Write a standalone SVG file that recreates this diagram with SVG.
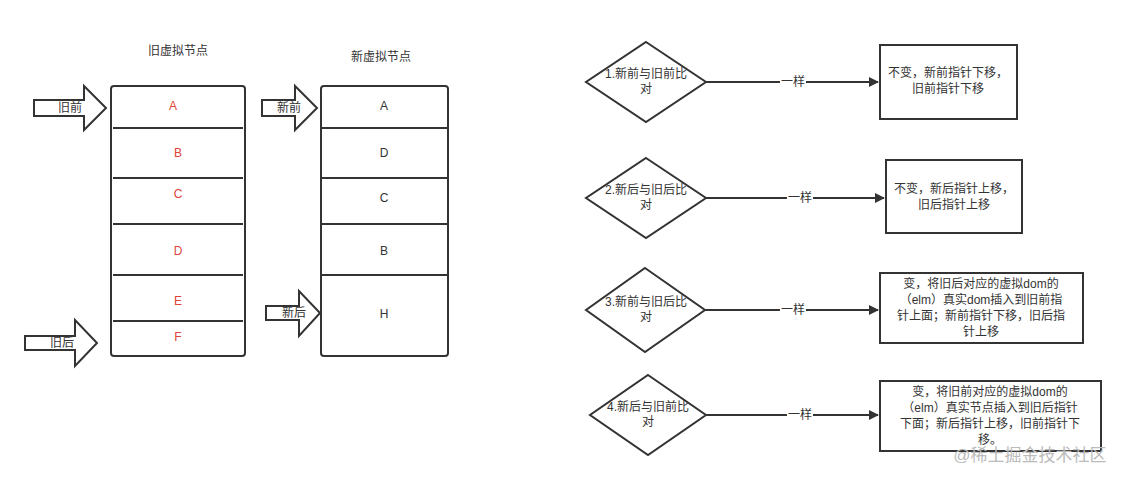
<svg xmlns="http://www.w3.org/2000/svg" width="1126" height="481" viewBox="0 0 1126 481">
<style>
text{font-family:"Liberation Sans","Noto Sans CJK SC",sans-serif;font-size:12px;fill:#333;text-anchor:middle}
.r{fill:#e0433b}
.box{fill:#fff;stroke:#333;stroke-width:2}
.ln{stroke:#333;stroke-width:2;fill:none}
.ba{fill:#fff;stroke:#333;stroke-width:2;stroke-linejoin:miter}
</style>
<defs><marker id="ah" markerWidth="10" markerHeight="10" refX="9" refY="5" orient="auto" markerUnits="userSpaceOnUse"><path d="M0,0 L10,5 L0,10 Z" fill="#333"/></marker></defs>
<rect width="1126" height="481" fill="#fff"/>
<g id="old-list">
<text x="178" y="55">旧虚拟节点</text>
<rect class="box" x="111" y="86" width="134" height="270" rx="3"/>
<path class="ln" d="M113 128H243M113 178H243M113 224H243M113 275H243M113 321H243"/>
<text class="r" x="173" y="110">A</text><text class="r" x="178" y="157">B</text><text class="r" x="178" y="198">C</text><text class="r" x="178" y="255">D</text><text class="r" x="178" y="305">E</text><text class="r" x="178" y="341">F</text>
</g>
<g id="new-list">
<text x="381" y="61">新虚拟节点</text>
<rect class="box" x="321" y="86" width="127" height="270" rx="3"/>
<path class="ln" d="M322 128H447M322 178H447M322 224H447M322 275H447"/>
<text x="384" y="110">A</text><text x="384" y="157">D</text><text x="384" y="202">C</text><text x="384" y="255">B</text><text x="384" y="318">H</text>
</g>
<g id="ptr-old-front"><path class="ba" d="M34 100H84V86L106 108L84 130V116H34Z"/><text x="70" y="112">旧前</text></g>
<g id="ptr-new-front"><path class="ba" d="M262 100H295V86L317 108L295 130V116H262Z"/><text x="289" y="112">新前</text></g>
<g id="ptr-new-back"><path class="ba" d="M266 306H299V291L320 313L299 336V320H266Z"/><text x="294" y="317">新后</text></g>
<g id="ptr-old-back"><path class="ba" d="M25 336H75V320L97 343L75 366V350H25Z"/><text x="62" y="347">旧后</text></g>
<g id="connectors">
<path class="ln" d="M706 82H878" marker-end="url(#ah)"/>
<path class="ln" d="M706 198H884" marker-end="url(#ah)"/>
<path class="ln" d="M705 310H878" marker-end="url(#ah)"/>
<path class="ln" d="M706 415H878" marker-end="url(#ah)"/>
<rect x="780" y="75" width="26" height="14" fill="#fff"/><text x="793" y="86">一样</text>
<rect x="787" y="191" width="26" height="14" fill="#fff"/><text x="800" y="202">一样</text>
<rect x="780" y="303" width="26" height="14" fill="#fff"/><text x="793" y="314">一样</text>
<rect x="787" y="408" width="26" height="14" fill="#fff"/><text x="800" y="419">一样</text>
</g>
<g id="d1"><path class="box" d="M646 42L706 82L646 122L586 82Z"/><text x="646" y="78">1.新前与旧前比</text><text x="646" y="93">对</text></g>
<g id="d2"><path class="box" d="M646 158L706 198L646 238L586 198Z"/><text x="646" y="194">2.新后与旧后比</text><text x="646" y="209">对</text></g>
<g id="d3"><path class="box" d="M645 268L705 310L645 352L586 310Z"/><text x="646" y="306">3.新前与旧后比</text><text x="646" y="321">对</text></g>
<g id="d4"><path class="box" d="M648 375L706 415L648 455L590 415Z"/><text x="648" y="411">4.新后与旧前比</text><text x="648" y="426">对</text></g>
<g id="r1"><rect class="box" x="880" y="45" width="137" height="74"/><text x="948" y="77">不变，新前指针下移，</text><text x="948" y="93">旧前指针下移</text></g>
<g id="r2"><rect class="box" x="886" y="160" width="136" height="73"/><text x="954" y="193">不变，新后指针上移，</text><text x="954" y="209">旧后指针上移</text></g>
<g id="r3"><rect class="box" x="880" y="273" width="203" height="70"/><text x="981" y="288">变，将旧后对应的虚拟dom的</text><text x="981" y="304">（elm）真实dom插入到旧前指</text><text x="981" y="320">针上面；新前指针下移，旧后指</text><text x="981" y="336">针上移</text></g>
<g id="r4"><rect class="box" x="880" y="381" width="221" height="70"/><text x="990" y="396">变，将旧前对应的虚拟dom的</text><text x="990" y="412">（elm）真实节点插入到旧后指针</text><text x="990" y="428">下面；新后指针上移，旧前指针下</text><text x="990" y="444">移。</text></g>
<text x="1030" y="461" style="font-size:17px;fill:#bbb">@稀土掘金技术社区</text>
</svg>
